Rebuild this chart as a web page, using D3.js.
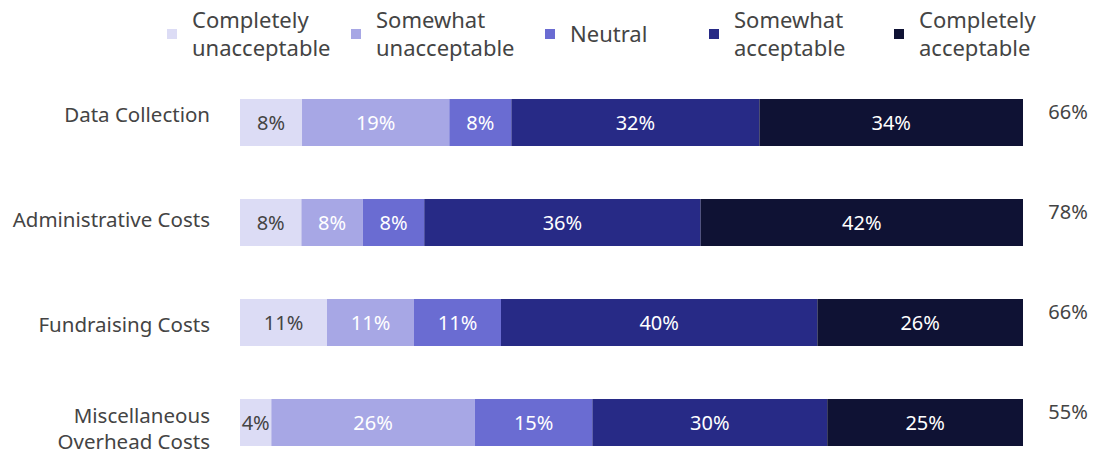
<!DOCTYPE html>
<html>
<head>
<meta charset="utf-8">
<script src="https://cdn.jsdelivr.net/npm/d3@7"></script>
<style>
  html, body { margin: 0; padding: 0; background: #fff; }
  svg { display: block; font-family: "Noto Sans", "Open Sans", sans-serif; }
</style>
</head>
<body>
<svg id="chart" width="1099" height="455"></svg>
<script>
// Survey categories (rows)
const categories = [
  ["Data Collection"],
  ["Administrative Costs"],
  ["Fundraising Costs"],
  ["Miscellaneous", "Overhead Costs"]
];
const categoryKeys = ["Data Collection", "Administrative Costs", "Fundraising Costs", "Miscellaneous Overhead Costs"];

// Response levels (stack order, left to right)
const responses = [
  "Completely unacceptable",
  "Somewhat unacceptable",
  "Neutral",
  "Somewhat acceptable",
  "Completely acceptable"
];
const legendLines = [
  ["Completely", "unacceptable"],
  ["Somewhat", "unacceptable"],
  ["Neutral"],
  ["Somewhat", "acceptable"],
  ["Completely", "acceptable"]
];

// Percent shares per category, one array per response level
const completelyUnacceptable = [8, 8, 11, 4];
const somewhatUnacceptable   = [19, 8, 11, 26];
const neutral                = [8, 8, 11, 15];
const somewhatAcceptable     = [32, 36, 40, 30];
const completelyAcceptable   = [34, 42, 26, 25];

// Net acceptable totals shown at the end of each bar
const acceptableTotals = [66, 78, 66, 55];

const colors = ["#dcdcf5", "#a7a7e5", "#6a6cd2", "#272a86", "#0f1234"];
const labelColors = ["#444444", "#ffffff", "#ffffff", "#ffffff", "#ffffff"];

const series = [completelyUnacceptable, somewhatUnacceptable, neutral, somewhatAcceptable, completelyAcceptable];

// Build rows normalised to their own total so every bar spans the full width
const rows = categoryKeys.map((key, i) => {
  const row = { key };
  const total = d3.sum(series, s => s[i]);
  responses.forEach((r, j) => { row[r] = series[j][i] / total; row[r + "_pct"] = series[j][i]; });
  return row;
});

const svg = d3.select("#chart");

const x = d3.scaleLinear().domain([0, 1]).range([240, 1023]);
const y = d3.scaleBand().domain(categoryKeys).range([79, 466]).paddingInner(0.53).paddingOuter(0.2);
// Row label axis runs on its own slightly wider spacing
const yLabel = d3.scalePoint().domain(categoryKeys).range([115, 429]);
const yTotal = d3.scalePoint().domain(categoryKeys).range([112, 412]);

const stacked = d3.stack().keys(responses)(rows);

const layer = svg.append("g").selectAll("g")
  .data(stacked)
  .join("g")
  .attr("fill", (d, i) => colors[i]);

layer.selectAll("rect")
  .data(d => d.map(v => ({ v, key: d.key })))
  .join("rect")
  .attr("x", d => x(d.v[0]))
  .attr("y", d => y(d.v.data.key))
  .attr("width", d => x(d.v[1]) - x(d.v[0]))
  .attr("height", y.bandwidth());

// Segment value labels
layer.selectAll("text")
  .data((d, i) => d.map(v => ({ v, key: d.key, idx: i })))
  .join("text")
  .attr("x", d => (x(d.v[0]) + x(d.v[1])) / 2)
  .attr("y", d => y(d.v.data.key) + y.bandwidth() / 2)
  .attr("dy", "0.35em")
  .attr("text-anchor", "middle")
  .attr("font-size", 20)
  .attr("fill", d => labelColors[d.idx])
  .text(d => d.v.data[d.key + "_pct"] + "%");

// Category labels on the left (one text element per line)
const catG = svg.append("g");
categories.forEach((lines, i) => {
  const cy = yLabel(categoryKeys[i]);
  const lh = 26;
  const start = cy - (lines.length - 1) * lh / 2;
  lines.forEach((ln, k) => {
    catG.append("text")
      .attr("text-anchor", "end")
      .attr("font-size", 20.5)
      .attr("fill", "#444444")
      .attr("x", 210)
      .attr("y", start + k * lh)
      .attr("dy", "0.35em")
      .text(ln);
  });
});

// Acceptable totals on the right
svg.append("g").selectAll("text")
  .data(acceptableTotals)
  .join("text")
  .attr("x", 1068)
  .attr("y", (d, i) => yTotal(categoryKeys[i]))
  .attr("dy", "0.35em")
  .attr("text-anchor", "middle")
  .attr("font-size", 20)
  .attr("fill", "#444444")
  .text(d => d + "%");

// Legend
const legendX = [167, 351, 545, 709, 894];
const legend = svg.append("g");
legendLines.forEach((lines, i) => {
  const g = legend.append("g");
  g.append("rect")
    .attr("x", legendX[i]).attr("y", 29)
    .attr("width", 10).attr("height", 10)
    .attr("fill", colors[i]);
  const lh = 28;
  const start = 34 - (lines.length - 1) * lh / 2;
  lines.forEach((ln, k) => {
    g.append("text")
      .attr("font-size", 22)
      .attr("fill", "#444444")
      .attr("x", legendX[i] + 25)
      .attr("y", start + k * lh)
      .attr("dy", "0.35em")
      .text(ln);
  });
});
</script>
</body>
</html>
